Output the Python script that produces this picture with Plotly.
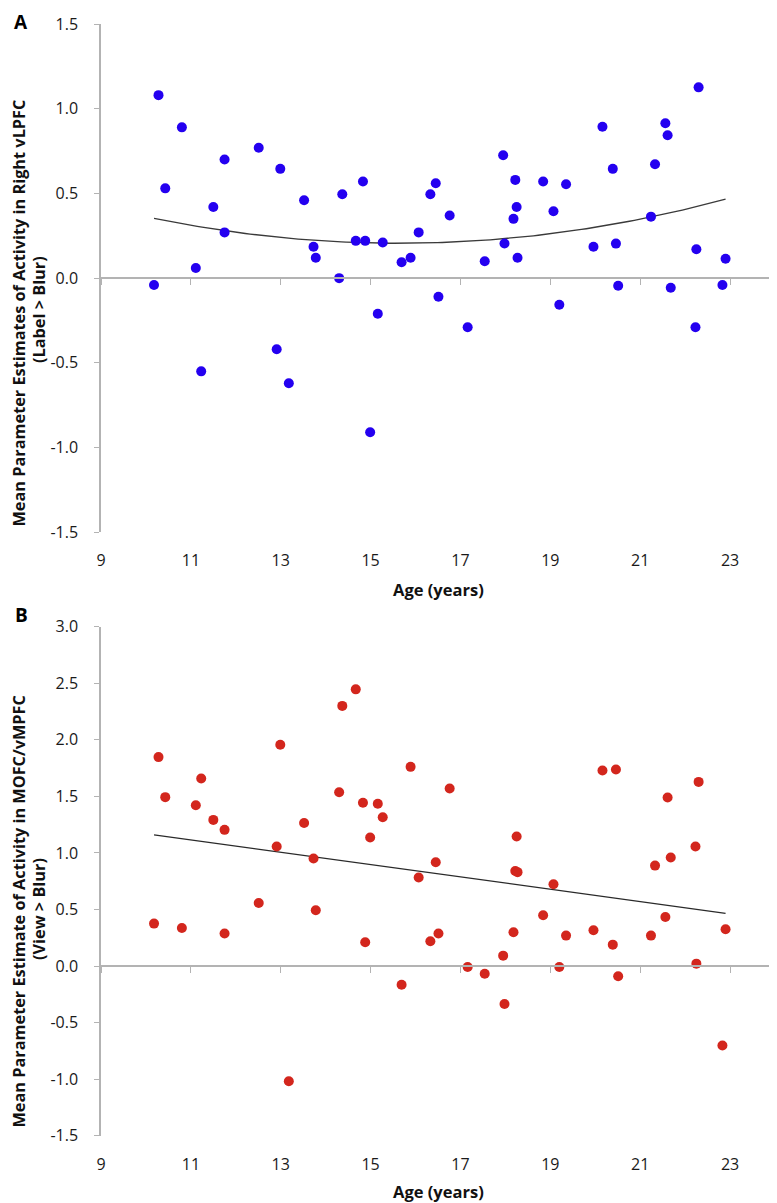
import numpy as np
import plotly.graph_objects as go

# ---------------- data ----------------
age = [10.18, 10.28, 10.43, 10.80, 11.11, 11.23, 11.50, 11.75, 11.75, 12.51,
       12.91, 12.99, 13.18, 13.52, 13.73, 13.78, 14.30, 14.37, 14.67, 14.83,
       14.88, 14.99, 15.16, 15.27, 15.69, 15.89, 16.07, 16.33, 16.45, 16.51,
       16.76, 17.16, 17.54, 17.95, 17.98, 18.18, 18.22, 18.25, 18.27, 18.84,
       19.07, 19.20, 19.35, 19.96, 20.16, 20.39, 20.46, 20.51, 21.24, 21.33,
       21.56, 21.61, 21.68, 22.23, 22.25, 22.30, 22.83, 22.90]

# Panel A: Right vLPFC (Label > Blur)
vlpfc = [-0.04, 1.08, 0.53, 0.89, 0.06, -0.55, 0.42, 0.70, 0.27, 0.77,
         -0.42, 0.645, -0.62, 0.46, 0.185, 0.12, 0.00, 0.495, 0.22, 0.57,
         0.22, -0.91, -0.21, 0.21, 0.094, 0.12, 0.27, 0.495, 0.56, -0.11,
         0.37, -0.29, 0.10, 0.725, 0.205, 0.35, 0.58, 0.42, 0.12, 0.57,
         0.395, -0.157, 0.554, 0.185, 0.894, 0.645, 0.204, -0.045, 0.363, 0.672,
         0.914, 0.843, -0.057, -0.29, 0.171, 1.126, -0.04, 0.114]

# Panel B: MOFC/vMPFC (View > Blur)
mofc = [0.375, 1.847, 1.493, 0.336, 1.422, 1.658, 1.292, 1.204, 0.287, 0.558,
        1.057, 1.956, -1.018, 1.265, 0.950, 0.493, 1.537, 2.30, 2.446, 1.443,
        0.21, 1.136, 1.434, 1.316, -0.165, 1.761, 0.782, 0.219, 0.918, 0.287,
        1.57, -0.009, -0.068, 0.092, -0.336, 0.298, 0.84, 1.145, 0.83, 0.449,
        0.723, -0.009, 0.269, 0.316, 1.729, 0.189, 1.738, -0.091, 0.269, 0.888,
        0.434, 1.49, 0.959, 1.057, 0.021, 1.628, -0.702, 0.325]

x_ticks = [9, 11, 13, 15, 17, 19, 21, 23]
yA_ticks = [-1.5, -1.0, -0.5, 0.0, 0.5, 1.0, 1.5]
yB_ticks = [-1.5, -1.0, -0.5, 0.0, 0.5, 1.0, 1.5, 2.0, 2.5, 3.0]

titleA = ["Mean Parameter Estimates of Activity in Right vLPFC", "(Label > Blur)"]
titleB = ["Mean Parameter Estimate of Activity in MOFC/vMPFC", "(View > Blur)"]
x_title = "Age (years)"

# ---------------- layout geometry ----------------
# the page body has an 8px margin, so the figure starts at (8, 8) in the window
OFF = 8
W, H = 777 - OFF, 1203 - OFF
def py(p):  # window pixel row -> paper y
    return 1 - (p - OFF) / H
def px(p):  # window pixel column -> paper x
    return (p - OFF) / W

xdom = [px(101), px(775)]
yA_dom = [py(532.3), py(24)]
yB_dom = [py(1135.7), py(626.7)]
yA_rng = [-1.5, 1.5]
yB_rng = [-1.5, 3.0]
zeroA = yA_dom[0] + (yA_dom[1] - yA_dom[0]) * (0 - yA_rng[0]) / (yA_rng[1] - yA_rng[0])
zeroB = yB_dom[0] + (yB_dom[1] - yB_dom[0]) * (0 - yB_rng[0]) / (yB_rng[1] - yB_rng[0])

BLUE = "#2400f0"
RED = "#d3261d"
AXC = "#b3b3b3"
FONT = "Open Sans"

ag = np.array(age)
xs = np.linspace(ag.min(), ag.max(), 120)
cA = np.polyfit(ag, np.array(vlpfc), 2)
cB = np.polyfit(ag, np.array(mofc), 1)

fig = go.Figure()
# Panel A
fig.add_trace(go.Scatter(x=xs, y=np.polyval(cA, xs), mode="lines",
                         line=dict(color="#3a3a3a", width=1.3), xaxis="x", yaxis="y",
                         hoverinfo="skip", showlegend=False))
fig.add_trace(go.Scatter(x=age, y=vlpfc, mode="markers",
                         marker=dict(color=BLUE, size=10, line=dict(width=0)),
                         xaxis="x", yaxis="y", showlegend=False))
# Panel B
fig.add_trace(go.Scatter(x=xs, y=np.polyval(cB, xs), mode="lines",
                         line=dict(color="#2a2a2a", width=1.3), xaxis="x2", yaxis="y2",
                         hoverinfo="skip", showlegend=False))
fig.add_trace(go.Scatter(x=age, y=mofc, mode="markers",
                         marker=dict(color=RED, size=10, line=dict(width=0)),
                         xaxis="x2", yaxis="y2", showlegend=False))
# dummy traces to anchor the zero-line axes
fig.add_trace(go.Scatter(x=[], y=[], xaxis="x3", yaxis="y", showlegend=False))
fig.add_trace(go.Scatter(x=[], y=[], xaxis="x4", yaxis="y2", showlegend=False))

tickfont = dict(family=FONT, size=16, color="#1a1a1a")

def xmain(anchor):
    return dict(domain=xdom, range=[9, 24], tickvals=x_ticks, ticktext=[str(v) for v in x_ticks],
                showline=False, showgrid=False, zeroline=False, ticks="", automargin=False,
                tickfont=tickfont, anchor=anchor, ticklabelstandoff=17, fixedrange=True)

def xzero(overl, pos):
    return dict(domain=xdom, range=[9, 24], overlaying=overl, anchor="free", position=pos,
                tickvals=x_ticks, showticklabels=False, showline=True, linecolor=AXC,
                linewidth=1.5, ticks="outside", ticklen=6, tickwidth=1.3, tickcolor=AXC,
                showgrid=False, zeroline=False, fixedrange=True, automargin=False)

def ymain(dom, rng, tv, anchor):
    return dict(domain=dom, range=rng, tickvals=tv, ticktext=[f"{v:.1f}" for v in tv],
                showline=True, linecolor=AXC, linewidth=1.5, ticks="outside", ticklen=5,
                tickwidth=1.3, tickcolor=AXC, showgrid=False, zeroline=False, automargin=False,
                tickfont=tickfont, anchor=anchor, ticklabelstandoff=13, fixedrange=True)

fig.update_layout(
    template="none",
    width=W, height=H, margin=dict(l=0, r=0, t=0, b=0, pad=0, autoexpand=False),
    paper_bgcolor="white", plot_bgcolor="white",
    xaxis=xmain("y"), yaxis=ymain(yA_dom, yA_rng, yA_ticks, "x"),
    xaxis2=xmain("y2"), yaxis2=ymain(yB_dom, yB_rng, yB_ticks, "x2"),
    xaxis3=xzero("x", zeroA), xaxis4=xzero("x2", zeroB),
)

tfont = dict(family=FONT, size=16.3, color="#111111")
ann = []
# y titles (two lines each)
for lines, yc in ((titleA, 313), (titleB, 912)):
    ann.append(dict(text=f"<b>{lines[0]}</b>", x=px(18.5), y=py(yc), xref="paper", yref="paper",
                    textangle=-90, showarrow=False, xanchor="center", yanchor="middle", font=tfont))
    ann.append(dict(text=f"<b>{lines[1]}</b>", x=px(39), y=py(yc - 3), xref="paper", yref="paper",
                    textangle=-90, showarrow=False, xanchor="center", yanchor="middle", font=tfont))
# x titles
for yc in (589, 1191):
    ann.append(dict(text=f"<b>{x_title}</b>", x=px(438), y=py(yc), xref="paper", yref="paper",
                    showarrow=False, xanchor="center", yanchor="middle",
                    font=dict(family=FONT, size=16.5, color="#111111")))
# panel letters
ann.append(dict(text="<b>A</b>", x=px(21), y=py(8.5), xref="paper", yref="paper",
                showarrow=False, xanchor="center", yanchor="top", borderpad=0,
                font=dict(family=FONT, size=19, color="#000000")))
ann.append(dict(text="<b>B</b>", x=px(21), y=py(615), xref="paper", yref="paper",
                showarrow=False, xanchor="center", yanchor="middle",
                font=dict(family=FONT, size=19, color="#000000")))
fig.update_layout(annotations=ann)

fig.write_html("out.html")
